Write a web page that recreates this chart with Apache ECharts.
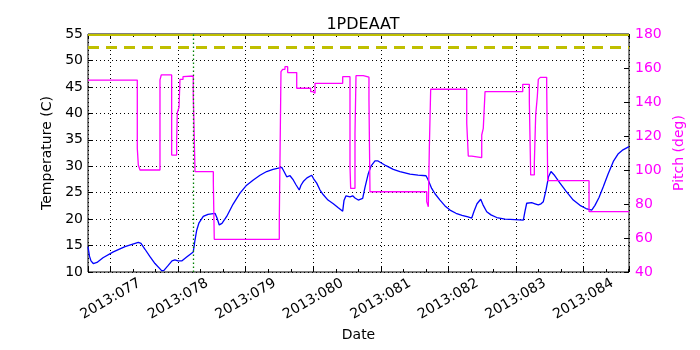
<!DOCTYPE html>
<html><head><meta charset="utf-8">
<script src="https://cdn.jsdelivr.net/npm/echarts@6/dist/echarts.min.js"></script>
<style>html,body{margin:0;padding:0;background:#fff}#c{width:700px;height:350px}</style>
</head><body><div id="c"></div>
<script>
// Day-of-year (2013) positions and temperature (C) of 1PDEAAT
const tempDays = [76.664,76.686,76.708,76.742,76.797,76.886,77.039,77.212,77.409,77.449,77.508,77.582,77.656,77.755,77.789,77.849,77.908,77.952,77.997,78.052,78.130,78.223,78.248,78.274,78.308,78.371,78.441,78.545,78.575,78.608,78.648,78.718,78.811,78.915,79.004,79.112,79.211,79.310,79.404,79.533,79.567,79.607,79.656,79.704,79.744,79.793,79.818,79.852,79.907,79.977,80.011,80.051,80.100,80.149,80.218,80.297,80.366,80.436,80.455,80.485,80.544,80.584,80.618,80.667,80.732,80.766,80.815,80.855,80.914,80.959,80.988,81.077,81.185,81.284,81.433,81.551,81.670,81.699,81.754,81.803,81.877,81.951,82.025,82.114,82.203,82.292,82.347,82.381,82.425,82.480,82.514,82.569,82.632,82.717,82.840,82.988,83.111,83.136,83.161,83.235,83.284,83.333,83.373,83.407,83.447,83.484,83.521,83.565,83.654,83.743,83.851,83.950,84.039,84.124,84.172,84.232,84.295,84.365,84.444,84.513,84.587,84.676];
const tempValues = [14.8,13.0,12.1,11.6,11.8,12.7,13.8,14.8,15.6,15.4,14.3,12.9,11.6,10.25,10.3,11.2,12.1,12.3,12.1,12.1,12.9,13.8,16.0,17.9,19.3,20.5,20.9,21.1,20.2,18.9,19.2,20.5,22.8,24.9,26.3,27.4,28.3,29.0,29.4,29.8,29.0,28.0,28.2,27.4,26.5,25.5,26.4,27.1,27.8,28.3,27.5,26.8,25.5,24.6,23.6,22.9,22.2,21.5,23.5,24.4,24.2,24.4,24.0,23.6,23.9,26.0,28.6,30.0,31.0,31.0,30.9,30.1,29.4,29.0,28.5,28.3,28.2,27.5,25.8,24.8,23.6,22.5,21.7,21.1,20.7,20.4,20.2,21.5,22.9,23.75,22.7,21.4,20.8,20.3,20.0,19.9,19.8,21.5,23.0,23.1,22.9,22.7,22.9,23.3,25.5,28.0,29.0,28.4,26.8,25.3,23.6,22.6,22.0,21.7,22.6,24.1,26.1,28.5,30.9,32.3,33.1,33.7];
// Pitch (deg): each value holds from its day until the next day
const pitchDays = [76.664,77.394,77.409,77.434,77.730,77.749,77.903,77.977,77.986,78.012,78.026,78.071,78.085,78.223,78.249,78.520,78.534,79.497,79.522,79.547,79.581,79.621,79.755,79.962,79.996,80.026,80.436,80.544,80.554,80.618,80.633,80.741,80.825,80.840,81.680,81.704,81.719,81.739,82.273,82.296,82.347,82.495,82.518,82.544,83.102,83.200,83.220,83.274,83.294,83.318,83.333,83.362,83.457,83.472,84.084,84.676];
const pitchValues = [152.9,112.8,102.9,100.0,153.0,155.9,108.8,116.7,133.7,136.9,153.3,154.9,155.3,144.0,99.0,93.1,59.2,70.6,157.8,159.2,160.8,157.3,148.1,146.1,145.1,151.0,154.9,102.0,89.2,121.6,155.5,154.6,141.2,87.2,81.4,78.4,112.8,147.5,127.5,108.2,107.3,120.6,124.5,146.1,150.4,140.2,97.1,104.0,132.4,143.1,153.3,154.5,150.0,93.7,75.5,75.5];
const tickDays = [77,78,79,80,81,82,83,84];
const tempLimit = 55, tempWarn = 52.5, markerDay = 78.223;
const xMin = 76.664, xMax = 84.676;

const FONT = 'DejaVu Sans';
const tempData = tempDays.map((d,i)=>[d,tempValues[i]]);
const pitchData = pitchDays.map((d,i)=>[d,pitchValues[i]]);

function xAxisDef(opts){
  return Object.assign({
    type:'value', min:xMin, max:xMax, gridIndex:0,
    axisLine:{show:false}, axisLabel:{show:false}, splitLine:{show:false},
    axisTick:{show:true, inside:true, length:4, lineStyle:{color:'#000',width:1}}
  }, opts);
}

const chart = echarts.init(document.getElementById('c'), null, {renderer:'canvas'});
chart.setOption({
  animation:false,
  backgroundColor:'#fff',
  textStyle:{fontFamily:FONT},
  title:{text:'1PDEAAT', left:358, top:12, textAlign:'center',
    textStyle:{fontFamily:FONT, fontSize:16, fontWeight:'normal', color:'#000'}},
  grid:{left:88, right:71, top:34, bottom:78, show:true, borderColor:'#000', borderWidth:1, backgroundColor:'transparent'},
  xAxis:[
    xAxisDef({position:'bottom', minInterval:1, maxInterval:1,
      name:'Date', nameLocation:'middle', nameGap:54,
      nameTextStyle:{fontFamily:FONT, fontSize:14, color:'#000'},
      axisTick:{show:true, inside:true, length:5, lineStyle:{color:'#000'}},
      axisLabel:{show:true, rotate:30, align:'center', verticalAlign:'middle', margin:27,
        fontFamily:FONT, fontSize:14, color:'#000',
        formatter:v=> (Math.abs(v-Math.round(v))<1e-6 && tickDays.indexOf(Math.round(v))>=0) ? '2013:0'+Math.round(v) : ''},
      splitLine:{show:true, lineStyle:{color:'#000', type:[1,3], width:1}}
    }),
    xAxisDef({position:'bottom', minInterval:1/3, maxInterval:1/3, axisTick:{show:true, inside:true, length:3, lineStyle:{color:'#000'}}}),
    xAxisDef({position:'top', minInterval:1, maxInterval:1, axisTick:{show:true, inside:true, length:5, lineStyle:{color:'#000'}}}),
    xAxisDef({position:'top', minInterval:1/3, maxInterval:1/3, axisTick:{show:true, inside:true, length:3, lineStyle:{color:'#000'}}})
  ],
  yAxis:[
    {type:'value', position:'left', min:10, max:55, interval:5,
      name:'Temperature (C)', nameLocation:'middle', nameGap:29,
      nameTextStyle:{fontFamily:FONT, fontSize:14, color:'#000'},
      axisLine:{show:false},
      axisTick:{show:true, inside:true, length:5, lineStyle:{color:'#000'}},
      axisLabel:{fontFamily:FONT, fontSize:14, color:'#000', margin:5},
      splitLine:{show:true, lineStyle:{color:'#000', type:[1,3], width:1}}},
    {type:'value', position:'right', min:40, max:180, interval:20,
      name:'Pitch (deg)', nameLocation:'middle', nameGap:31, nameRotate:90,
      nameTextStyle:{fontFamily:FONT, fontSize:14, color:'#ff00ff'},
      axisLine:{show:false},
      axisTick:{show:true, inside:true, length:5, lineStyle:{color:'#000'}},
      axisLabel:{fontFamily:FONT, fontSize:14, color:'#ff00ff', margin:6},
      splitLine:{show:false}}
  ],
  series:[
    {type:'line', name:'temp', xAxisIndex:0, yAxisIndex:0, data:tempData, showSymbol:false,
      lineStyle:{color:'#0000ff', width:1.3}, z:3,
      markLine:{silent:true, symbol:'none', label:{show:false}, animation:false,
        data:[
          {yAxis:tempWarn, lineStyle:{color:'#bfbf00', width:3, type:[11,7]}},
          {yAxis:tempLimit-0.15, lineStyle:{color:'#bfbf00', width:2, type:'solid'}},
          {xAxis:markerDay, lineStyle:{color:'#008000', width:1.3, type:[1.5,2.5]}}
        ]}},
    {type:'line', name:'pitch', xAxisIndex:0, yAxisIndex:1, data:pitchData, step:'end', showSymbol:false,
      lineStyle:{color:'#ff00ff', width:1.3}, z:4}
  ]
});
</script></body></html>
